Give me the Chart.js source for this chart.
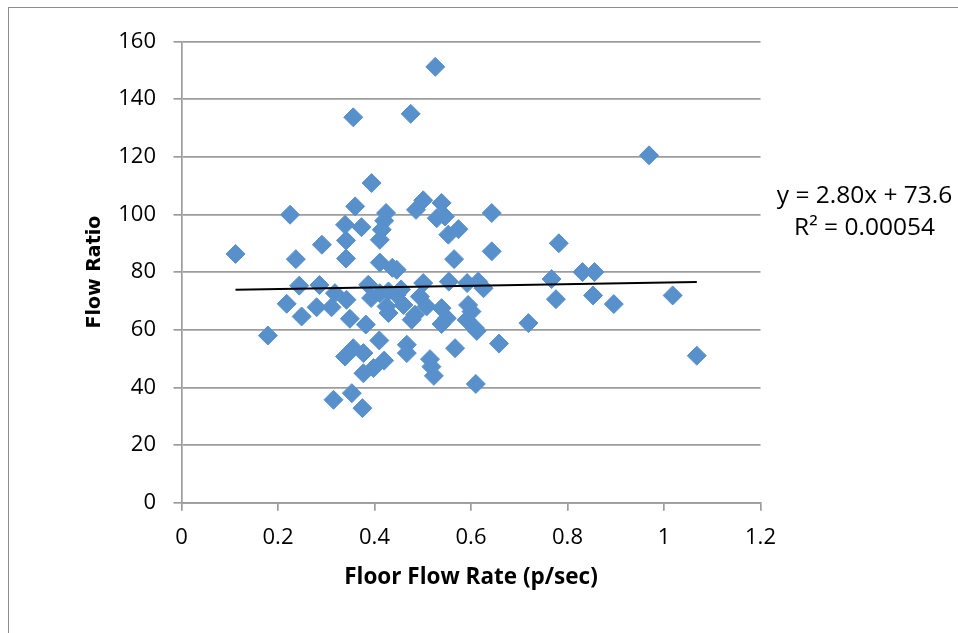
<!DOCTYPE html>
<html>
<head>
<meta charset="utf-8">
<script src="https://cdn.jsdelivr.net/npm/chart.js@4.4.1/dist/chart.umd.min.js"></script>
<style>
  html, body { margin: 0; padding: 0; background: #fff; overflow: hidden; }
  #wrap { position: relative; width: 958px; height: 633px; }
  #frame { position: absolute; left: 8px; top: 7px; width: 1000px; height: 1000px; border: 1px solid #8c8c8c; box-sizing: border-box; }
  canvas { position: absolute; left: 0; top: 0; }
</style>
</head>
<body>
<div id="wrap">
  <div id="frame"></div>
  <canvas id="chart" width="958" height="633"></canvas>
</div>
<script>
// Floor flow rate (p/sec) for each observation
const floorFlowRate = [
  0.526, 0.356, 0.475, 0.969, 0.394, 0.360, 0.225, 0.424, 0.420, 0.501,
  0.486, 0.539, 0.529, 0.546, 0.643, 0.339, 0.373, 0.415, 0.341, 0.411,
  0.553, 0.574, 0.782, 0.291, 0.112, 0.237, 0.341, 0.411, 0.565, 0.643,
  0.446, 0.437, 0.767, 0.831, 0.856, 0.244, 0.286, 0.318, 0.342, 0.387,
  0.393, 0.411, 0.429, 0.446, 0.494, 0.501, 0.554, 0.592, 0.615, 0.626,
  0.776, 0.853, 1.018, 0.218, 0.280, 0.311, 0.249, 0.349, 0.382, 0.425,
  0.460, 0.484, 0.508, 0.539, 0.550, 0.539, 0.594, 0.601, 0.591, 0.608,
  0.612, 0.896, 0.719, 0.429, 0.477, 0.179, 0.410, 0.339, 0.356, 0.377,
  0.467, 0.467, 0.515, 0.518, 0.567, 0.658, 1.068, 0.420, 0.377, 0.398,
  0.523, 0.610, 0.315, 0.353, 0.375, 0.455
];
// Flow ratio for the same observations
const flowRatio = [
  151.2, 133.7, 134.9, 120.5, 110.9, 102.8, 99.9, 100.5, 97.8, 104.9,
  101.6, 104.0, 98.7, 99.3, 100.5, 96.4, 95.6, 94.7, 91.0, 91.2,
  93.0, 94.9, 90.0, 89.5, 86.3, 84.5, 84.7, 83.3, 84.5, 87.2,
  80.8, 81.5, 77.6, 80.0, 80.0, 75.3, 75.5, 72.7, 70.4, 75.6,
  71.0, 72.7, 73.3, 72.1, 71.5, 76.2, 76.7, 76.2, 76.7, 74.4,
  70.6, 71.9, 71.9, 69.0, 67.8, 67.8, 64.6, 63.8, 61.8, 68.1,
  68.6, 65.2, 68.1, 67.5, 64.0, 62.0, 68.6, 66.3, 63.4, 60.6,
  59.6, 68.9, 62.3, 65.8, 63.5, 58.0, 56.3, 50.7, 53.6, 51.9,
  54.8, 51.9, 49.8, 47.2, 53.6, 55.2, 51.0, 49.3, 44.9, 46.7,
  44.0, 41.2, 35.7, 38.0, 32.8, 74.0
];
// Linear trendline coefficients and R squared
const trendSlope = 2.80;
const trendIntercept = 73.6;
const trendR2 = '0.00054';
// Axis ticks
const xTicks = [0, 0.2, 0.4, 0.6, 0.8, 1, 1.2];
const yTicks = [0, 20, 40, 60, 80, 100, 120, 140, 160];

const points = floorFlowRate.map((x, i) => ({ x: x, y: flowRatio[i] }));
const xMin = Math.min(...floorFlowRate);
const xMax = Math.max(...floorFlowRate);
const trendPoints = [
  { x: xMin, y: trendSlope * xMin + trendIntercept },
  { x: xMax, y: trendSlope * xMax + trendIntercept }
];

const gridColor = '#9c9c9c';
const tickFont = { family: 'Open Sans, sans-serif', size: 22 };

const equationLabel = {
  id: 'equationLabel',
  afterDraw(chart) {
    const ctx = chart.ctx;
    const area = chart.chartArea;
    const cx = area.right + 104;
    ctx.save();
    ctx.fillStyle = '#000';
    ctx.font = '24.5px "Open Sans", sans-serif';
    ctx.textAlign = 'center';
    ctx.textBaseline = 'middle';
    ctx.fillText('y = ' + trendSlope.toFixed(2) + 'x + ' + trendIntercept.toFixed(1), cx, area.top + 155);
    ctx.fillText('R\u00B2 = ' + trendR2, cx, area.top + 187);
    ctx.restore();
  }
};

new Chart(document.getElementById('chart'), {
  type: 'scatter',
  data: {
    datasets: [
      {
        label: 'Flow Ratio',
        data: points,
        pointStyle: 'rectRot',
        pointRadius: 9.5,
        pointHoverRadius: 9.5,
        backgroundColor: '#5890cb',
        borderColor: '#5890cb',
        borderWidth: 1,
        order: 2
      },
      {
        type: 'line',
        label: 'Linear trend',
        data: trendPoints,
        borderColor: '#000',
        borderWidth: 2,
        pointRadius: 0,
        fill: false,
        order: 1
      }
    ]
  },
  options: {
    responsive: false,
    animation: false,
    events: [],
    layout: { padding: { left: 60, top: 41.5, right: 197.5, bottom: 20 } },
    plugins: {
      legend: { display: false },
      tooltip: { enabled: false }
    },
    scales: {
      x: {
        type: 'linear',
        min: 0,
        max: 1.2,
        afterBuildTicks(scale) { scale.ticks = xTicks.map(v => ({ value: v })); },
        afterFit(scale) { scale.height = 110.3; },
        ticks: {
          font: tickFont,
          color: '#000',
          padding: 14,
          maxRotation: 0,
          callback: v => String(v)
        },
        grid: {
          drawOnChartArea: false,
          drawTicks: true,
          tickLength: 8,
          color: gridColor,
          lineWidth: 1.7
        },
        border: { display: true, color: gridColor, width: 1.7 },
        title: {
          display: true,
          text: 'Floor Flow Rate (p/sec)',
          color: '#000',
          font: { family: 'Open Sans, sans-serif', size: 22.5, weight: 'bold' },
          padding: { top: 0, bottom: 22 }
        }
      },
      y: {
        type: 'linear',
        min: 0,
        max: 160,
        afterBuildTicks(scale) { scale.ticks = yTicks.map(v => ({ value: v })); },
        afterFit(scale) { scale.width = 121.5; },
        ticks: {
          font: tickFont,
          color: '#000',
          padding: 17.5,
          callback: v => String(v)
        },
        grid: {
          drawTicks: true,
          tickLength: 8,
          color: gridColor,
          lineWidth: 1.7
        },
        border: { display: true, color: gridColor, width: 1.7 },
        title: {
          display: true,
          text: 'Flow Ratio',
          color: '#000',
          font: { family: 'DejaVu Sans, Verdana, sans-serif', size: 19, weight: 'bold' },
          padding: { top: 24, bottom: 0 }
        }
      }
    }
  },
  plugins: [equationLabel]
});
</script>
</body>
</html>
